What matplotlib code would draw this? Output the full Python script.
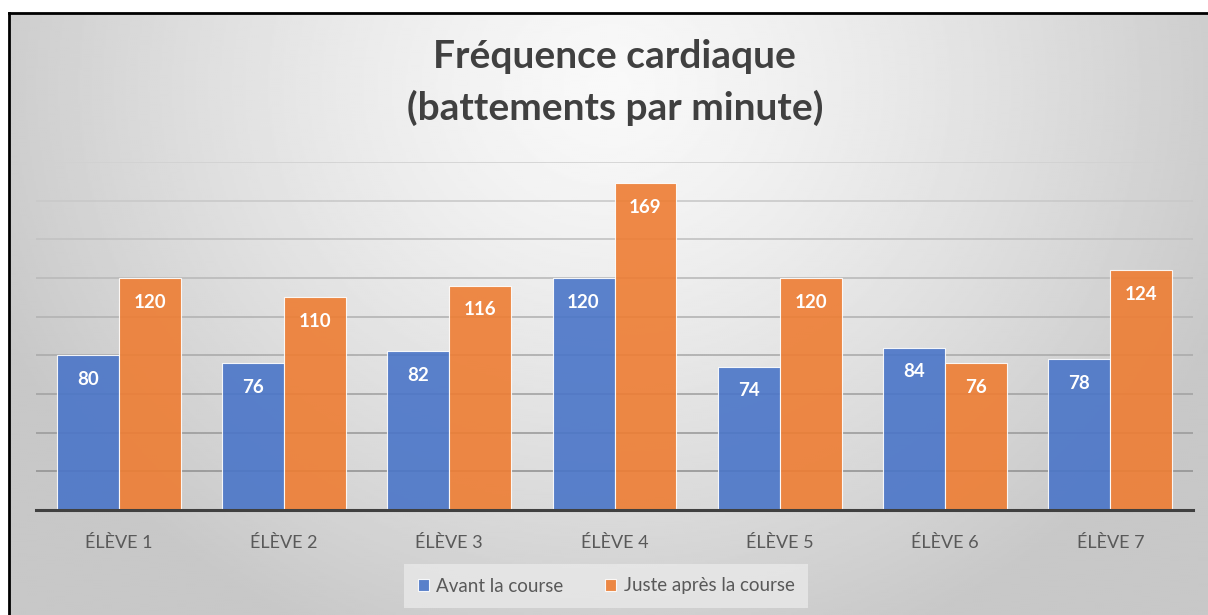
"""
Fréquence cardiaque des élèves avant et juste après la course.
"""

import matplotlib.pyplot as plt
import numpy as np

# Data
# ----------------------------------------------------------------------------

eleves = ['ÉLÈVE 1', 'ÉLÈVE 2', 'ÉLÈVE 3', 'ÉLÈVE 4', 'ÉLÈVE 5', 'ÉLÈVE 6', 'ÉLÈVE 7']
avant = [80, 76, 82, 120, 74, 84, 78]
apres = [120, 110, 116, 169, 120, 76, 124]
series = ['Avant la course', 'Juste après la course']
grid_vals = list(range(20, 181, 20))

plt.rcParams['font.family'] = ['Lato', 'DejaVu Sans']

W, H = 1208, 615
fig = plt.figure(figsize=(W / 100, H / 100), dpi=100)
fig.patch.set_facecolor('white')

# Radial gradient background
# ----------------------------------------------------------------------------

left, top = 9, 13
bg = fig.add_axes([left / W, 0, 1 - left / W, (H - top) / H], zorder=0)
ny, nx = 300, 600
yy, xx = np.mgrid[0:ny, 0:nx]
dx = (xx / nx - 0.5) / 0.55
dy = (yy / ny - 0.12) / 1.0
r = np.clip(np.sqrt(dx**2 + dy**2), 0, 1)
shade = 0.975 - 0.19 * r**1.3
bg.imshow(shade, cmap='gray', vmin=0, vmax=1, aspect='auto',
          extent=[0, 1, 0, 1], interpolation='bilinear')
bg.set_xlim(0, 1)
bg.set_ylim(0, 1)
bg.axis('off')

# Border lines (top and left)
fig.add_artist(plt.Line2D([left / W, 1], [1 - top / H, 1 - top / H],
                          color='black', lw=2, transform=fig.transFigure))
fig.add_artist(plt.Line2D([left / W, left / W], [0, 1 - top / H],
                          color='black', lw=2, transform=fig.transFigure))

# Chart
# ----------------------------------------------------------------------------

x0, x1, ytop, ybot = 36, 1193, 162, 510
ax = fig.add_axes([x0 / W, (H - ybot) / H, (x1 - x0) / W, (ybot - ytop) / H],
                  zorder=1)
ax.patch.set_alpha(0)

# gridlines fade out towards the top, as in the original
for g in grid_vals:
    c = 0.55 + 0.27 * (g / 180)
    ax.axhline(g, color=(c, c, c), lw=1.2, zorder=0)

x = np.arange(len(eleves))
w = 0.375
b1 = ax.bar(x - w / 2, avant, w, color='#4A75C8', alpha=0.9,
            edgecolor='white', linewidth=0.8, label=series[0], zorder=2)
b2 = ax.bar(x + w / 2, apres, w, color='#EE7D33', alpha=0.9,
            edgecolor='white', linewidth=0.8, label=series[1], zorder=2)

for bars, vals in ((b1, avant), (b2, apres)):
    for rect, v in zip(bars, vals):
        ax.annotate(str(v), (rect.get_x() + rect.get_width() / 2, v),
                    xytext=(0, -17.3), textcoords='offset points',
                    ha='center', va='center', color='white',
                    fontsize=13.5, fontweight='bold', zorder=3)

ax.set_xlim(-0.5, len(eleves) - 0.5)
ax.set_ylim(0, 180)
ax.set_yticks([])
ax.tick_params(axis='x', length=0, pad=18, labelsize=13, labelcolor='#595959')
ax.set_xticks(x)
ax.set_xticklabels(eleves)
for s in ax.spines.values():
    s.set_visible(False)
ax.axhline(0, color='#404040', lw=2.2, zorder=4, clip_on=False)

fig.text(0.509, 1 - 57 / H, 'Fréquence cardiaque', ha='center', va='center',
         fontsize=28, fontweight='bold', color='#404040')
fig.text(0.509, 1 - 108 / H, '(battements par minute)', ha='center',
         va='center', fontsize=28, fontweight='bold', color='#404040')

leg = fig.legend(handles=[b1, b2], loc='center', ncol=2,
                 bbox_to_anchor=(606 / W, 1 - 586 / H), frameon=True,
                 facecolor='#ececec', edgecolor='none', framealpha=0.7,
                 fancybox=False, handlelength=0.6, handleheight=0.6,
                 handletextpad=0.4, columnspacing=2.2, fontsize=13.5,
                 borderpad=0.7, borderaxespad=0)
for t in leg.get_texts():
    t.set_color('#595959')

fig.savefig('out.png', dpi=100)
